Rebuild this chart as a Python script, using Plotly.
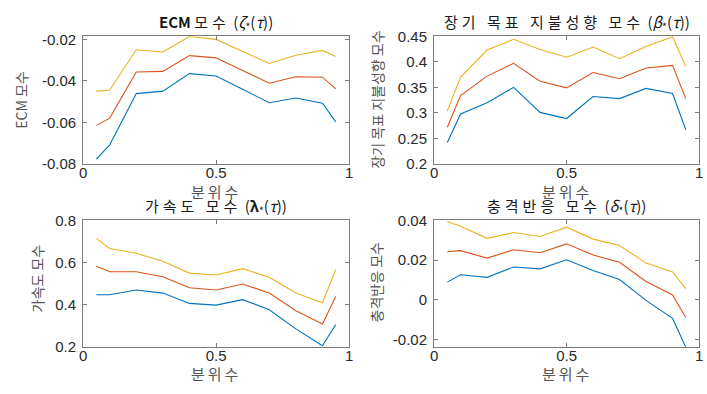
import plotly.graph_objects as go

# Quantile levels
tau = [0.05, 0.1, 0.2, 0.3, 0.4, 0.5, 0.6, 0.7, 0.8, 0.9, 0.95]

# ECM parameter: lower band, estimate, upper band
ecm_lo = [-0.0777, -0.0708, -0.0461, -0.0449, -0.0365, -0.0376, -0.0440, -0.0505, -0.0482, -0.0507, -0.0597]
ecm_mid = [-0.0614, -0.0579, -0.0357, -0.0354, -0.0278, -0.0289, -0.0350, -0.0411, -0.0380, -0.0382, -0.0438]
ecm_hi = [-0.0449, -0.0444, -0.0250, -0.0261, -0.0186, -0.0200, -0.0258, -0.0316, -0.0276, -0.0253, -0.0282]

# Long-run target payout parameter
beta_lo = [0.242, 0.298, 0.320, 0.350, 0.301, 0.289, 0.332, 0.328, 0.348, 0.338, 0.267]
beta_mid = [0.272, 0.334, 0.372, 0.397, 0.362, 0.349, 0.379, 0.367, 0.388, 0.393, 0.328]
beta_hi = [0.304, 0.370, 0.423, 0.444, 0.424, 0.409, 0.429, 0.406, 0.430, 0.449, 0.391]

# Acceleration parameter
lam_lo = [0.447, 0.447, 0.470, 0.455, 0.406, 0.398, 0.424, 0.376, 0.285, 0.205, 0.306]
lam_mid = [0.582, 0.556, 0.556, 0.533, 0.480, 0.470, 0.498, 0.455, 0.371, 0.308, 0.439]
lam_hi = [0.715, 0.667, 0.644, 0.606, 0.550, 0.541, 0.571, 0.530, 0.455, 0.409, 0.567]

# Shock response parameter
del_lo = [0.0089, 0.0126, 0.0113, 0.0165, 0.0156, 0.0202, 0.0148, 0.0102, -0.0003, -0.0094, -0.0239]
del_mid = [0.0242, 0.0248, 0.0210, 0.0252, 0.0237, 0.0282, 0.0226, 0.0189, 0.0092, 0.0024, -0.0089]
del_hi = [0.0395, 0.0371, 0.0310, 0.0339, 0.0319, 0.0366, 0.0306, 0.0274, 0.0185, 0.0140, 0.0056]

SP = '<span style="letter-spacing:4px">{}</span>'
SP_X = '<span style="letter-spacing:3px">{}</span>'

titles = [
    "<b>ECM</b> " + SP.format("모수") + " (<i>ζ</i><sub>*</sub>(<i>τ</i>))",
    SP.format("장기 목표 지불성향 모수") + " (<i>β</i><sub>*</sub>(<i>τ</i>))",
    SP.format("가속도 모수") + " (<b>λ</b><sub>*</sub>(<i>τ</i>))",
    SP.format("충격반응 모수") + " (<i>δ</i><sub>*</sub>(<i>τ</i>))",
]
ylabels = ["ECM 모수", "장기 목표 지불성향 모수", "가속도 모수", "충격반응 모수"]
xlabel = "분위수"
panels = [
    (ecm_lo, ecm_mid, ecm_hi),
    (beta_lo, beta_mid, beta_hi),
    (lam_lo, lam_mid, lam_hi),
    (del_lo, del_mid, del_hi),
]
yranges = [[-0.08, -0.0185], [0.2, 0.45], [0.2, 0.8], [-0.0237, 0.04]]
ytickvals = [
    [-0.08, -0.06, -0.04, -0.02],
    [0.2, 0.25, 0.3, 0.35, 0.4, 0.45],
    [0.2, 0.4, 0.6, 0.8],
    [-0.02, 0, 0.02, 0.04],
]
yticktext = [
    ["-0.08", "-0.06", "-0.04", "-0.02"],
    ["0.2", "0.25", "0.3", "0.35", "0.4", "0.45"],
    ["0.2", "0.4", "0.6", "0.8"],
    ["-0.02", "0", "0.02", "0.04"],
]
colors = ["#0072BD", "#D95319", "#EDB120"]

W, H = 707, 394
xdom = [[80 / W, 349 / W], [435 / W, 703 / W]]
ydom = [[1 - 162 / H, 1 - 28.5 / H], [1 - 353 / H, 1 - 221 / H]]

latin = "Liberation Sans, Arial, sans-serif"
kfont = "Noto Sans CJK KR, sans-serif"
axis_col = "#7a7a7a"
text_col = "#2a2a2a"

fig = go.Figure()
layout = dict(
    width=W, height=H,
    margin=dict(l=0, r=0, t=0, b=0),
    paper_bgcolor="white", plot_bgcolor="white",
    showlegend=False,
    annotations=[],
)

# centres of the rotated y titles (px from left, px from top)
ytitle_pos = [(17, 95), (377, 95), (33, 282), (376, 285)]

for i, (series, yr) in enumerate(zip(panels, yranges)):
    r, c = divmod(i, 2)
    n = "" if i == 0 else str(i + 1)
    for s, col in zip(series, colors):
        fig.add_trace(go.Scatter(
            x=tau, y=s, mode="lines",
            line=dict(color=col, width=1.1),
            xaxis="x" + n, yaxis="y" + n,
        ))
    common = dict(
        showline=True, linecolor=axis_col, linewidth=1, mirror="ticks",
        ticks="inside", ticklen=4, tickcolor=axis_col,
        showgrid=False, zeroline=False,
        tickfont=dict(family=latin, size=15, color=text_col),
    )
    layout["xaxis" + n] = dict(
        common, domain=xdom[c], range=[0, 1], anchor="y" + n,
        tickvals=[0, 0.5, 1], ticktext=["0", "0.5", "1"],
        ticklabelstandoff=-5,
    )
    layout["yaxis" + n] = dict(
        common, domain=ydom[r], range=yr, anchor="x" + n,
        tickvals=ytickvals[i], ticktext=yticktext[i],
        ticklabelstandoff=3,
    )
    xc = (xdom[c][0] + xdom[c][1]) / 2
    # panel title
    layout["annotations"].append(dict(
        text=titles[i], xref="paper", yref="paper",
        x=xc, y=ydom[r][1], xanchor="center", yanchor="middle", yshift=14,
        showarrow=False, font=dict(family=kfont, size=15, color="#1a1a1a"),
    ))
    # x-axis title
    layout["annotations"].append(dict(
        text=SP_X.format(xlabel), xref="paper", yref="paper",
        x=xc, y=ydom[r][0], xanchor="center", yanchor="middle", yshift=-27,
        showarrow=False, font=dict(family=kfont, size=15, color="#555555"),
    ))
    # y-axis title
    px, py = ytitle_pos[i]
    layout["annotations"].append(dict(
        text=ylabels[i], xref="paper", yref="paper",
        x=px / W, y=1 - py / H, textangle=-90,
        xanchor="center", yanchor="middle",
        showarrow=False, font=dict(family=kfont, size=14, color="#555555"),
    ))

fig.update_layout(**layout)
fig.write_html("out.html")
